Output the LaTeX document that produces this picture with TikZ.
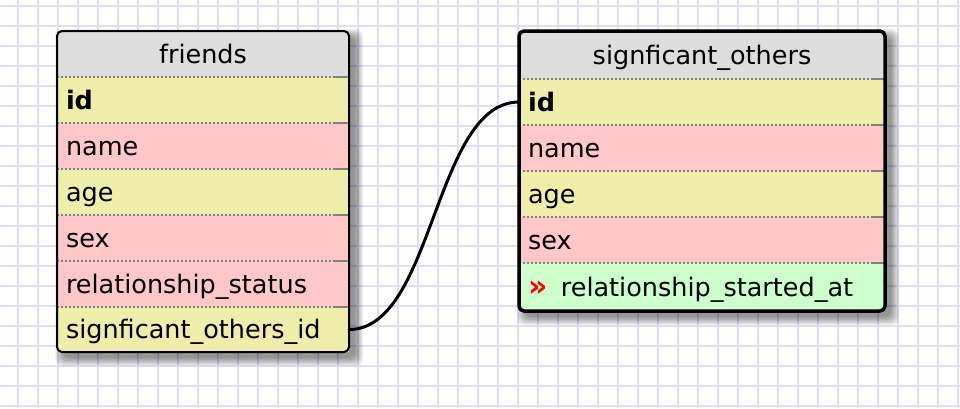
\documentclass[tikz,border=0pt]{standalone}
\usepackage{fontspec}
\setmainfont{DejaVu Sans}
\usetikzlibrary{positioning,backgrounds}
\definecolor{gridc}{RGB}{221,221,246}
\definecolor{headc}{RGB}{221,221,221}
\definecolor{keyc}{RGB}{238,238,170}
\definecolor{attrc}{RGB}{255,200,200}
\definecolor{newc}{RGB}{204,255,204}
\begin{document}
\begin{tikzpicture}[x=1pt, y=-1pt, font=\fontsize{25.5}{30}\selectfont, line join=round, line cap=round,
    cell/.style={outer sep=0pt, inner xsep=9pt, inner ysep=0pt, text height=22pt, text depth=4pt, align=left, minimum height=46pt},
    fcell/.style={cell, minimum width=292pt, text width=274pt},
    scell/.style={cell, minimum width=366pt, text width=348pt},
    head/.style={fill=headc, align=center},
    gridline/.style={gridc, line width=1.6pt},
    sepline/.style={gray, line width=1.3pt, dash pattern=on 1.6pt off 2.4pt, line cap=butt},
    shade/.style={black, opacity=0.055, rounded corners=7pt},
    link/.style={line width=3pt}]
    \useasboundingbox (0,0) rectangle (960,408);
    \begin{scope}[on background layer]
        \fill[white] (0,0) rectangle (960,408);
        \foreach \gx in {18,38,...,958} \draw[gridline] (\gx,0) -- (\gx,408);
        \foreach \gy in {6,26,...,406} \draw[gridline] (0,\gy) -- (960,\gy);
    \end{scope}
    % friends
    \node[fcell, head, anchor=north west] (fh) at (57,31) {friends};
    \node[fcell, fill=keyc, below=0pt of fh] (f1) {\textbf{id}};
    \node[fcell, fill=attrc, below=0pt of f1] (f2) {name};
    \node[fcell, fill=keyc, below=0pt of f2] (f3) {age};
    \node[fcell, fill=attrc, below=0pt of f3] (f4) {sex};
    \node[fcell, fill=attrc, below=0pt of f4] (f5) {relationship\_status};
    \node[fcell, fill=keyc, below=0pt of f5, minimum height=45pt] (f6) {signficant\_others\_id};
    % signficant_others
    \node[scell, head, anchor=north west, minimum height=48pt] (sh) at (519,31) {signficant\_others};
    \node[scell, fill=keyc, below=0pt of sh] (s1) {\textbf{id}};
    \node[scell, fill=attrc, below=0pt of s1] (s2) {name};
    \node[scell, fill=keyc, below=0pt of s2] (s3) {age};
    \node[scell, fill=attrc, below=0pt of s3] (s4) {sex};
    \node[scell, fill=newc, below=0pt of s4, minimum height=48pt] (s5) {\textcolor{red}{\fontsize{30}{30}\selectfont\textbf{»}}\hspace{5pt} relationship\_started\_at};
    \foreach \r in {f1,f2,f3,f4,f5,f6,s1,s2,s3,s4,s5} {
        \draw[sepline] (\r.north west) -- ([xshift=-14pt]\r.north east);
        \draw[gray, line width=1.3pt, line cap=butt] ([xshift=-14pt]\r.north east) -- (\r.north east);
    }
    \draw[line width=2pt, rounded corners=5pt] (fh.north west) rectangle (f6.south east);
    \draw[line width=3.5pt, rounded corners=5pt] (sh.north west) rectangle (s5.south east);
    % soft shadows
    \begin{scope}[on background layer]
        \foreach \b in {0,...,8} {
            \fill[shade] ([xshift=6-\b, yshift=\b-6]fh.north west) rectangle ([xshift=6+\b, yshift=-6-\b]f6.south east);
            \fill[shade] ([xshift=6-\b, yshift=\b-6]sh.north west) rectangle ([xshift=6+\b, yshift=-6-\b]s5.south east);
        }
    \end{scope}
    \draw[link] (f6.east) .. controls +(85,0) and +(-85,0) .. (s1.west);
\end{tikzpicture}
\end{document}
